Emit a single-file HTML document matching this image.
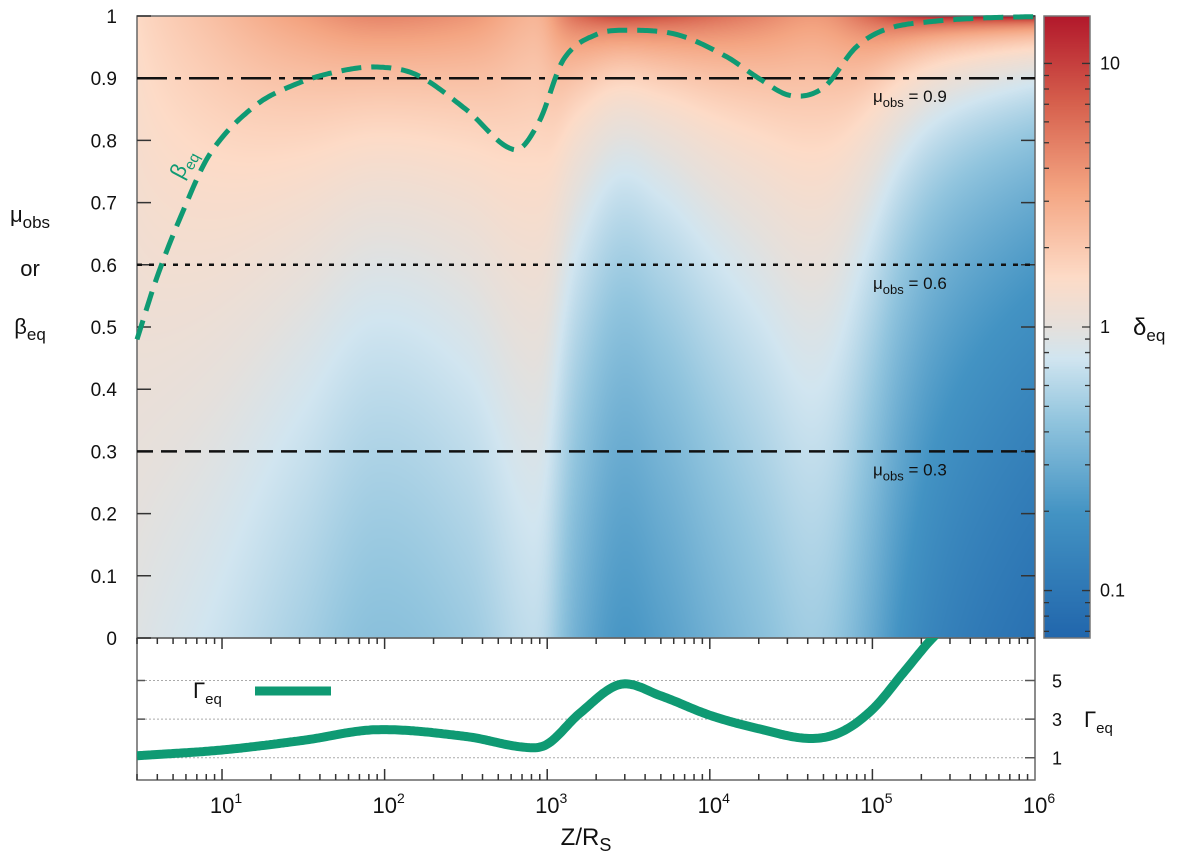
<!DOCTYPE html>
<html><head><meta charset="utf-8"><style>
html,body{margin:0;padding:0;background:#fff;}
#wrap{position:relative;width:1200px;height:858px;font-family:"Liberation Sans",sans-serif;}
canvas{position:absolute;}
svg{position:absolute;left:0;top:0;}
</style></head><body>
<div id="wrap">
<canvas id="heat" style="left:137px;top:16px;" width="898" height="622"></canvas>
<canvas id="cbar" style="left:1044px;top:16px;" width="46" height="622"></canvas>
<svg id="svg" width="1200" height="858"></svg>
</div>
<script>
// ---- data ----
const gammaLogZ = [0.477,1.0,1.5,1.95,2.5,2.85,3.0,3.2,3.45,3.7,4.0,4.3,4.6,4.8,5.0,5.2,5.37,5.6,6.0];
const gammaVals = [1.1,1.4,1.9,2.45,2.1,1.55,1.7,3.3,4.8,4.2,3.2,2.5,2.0,2.3,3.5,5.5,7.2,9.0,11.5];
const betaLogZ = [0.477,0.6,0.75,0.93,1.2,1.45,1.7,1.95,2.2,2.5,2.8,2.95,3.1,3.3,3.5,3.8,4.1,4.3,4.5,4.7,4.9,5.1,5.4,5.7,6.0];
const betaVals = [0.48,0.58,0.68,0.78,0.855,0.89,0.91,0.918,0.905,0.85,0.785,0.83,0.93,0.97,0.977,0.97,0.935,0.9,0.872,0.885,0.95,0.98,0.992,0.997,0.999];
const muLines = [0.9,0.6,0.3];
const muDash = ["30,8,6,8","5,7","16,8"];
const yTicks = [0,0.1,0.2,0.3,0.4,0.5,0.6,0.7,0.8,0.9,1];
const yTickLabels = ["0","0.1","0.2","0.3","0.4","0.5","0.6","0.7","0.8","0.9","1"];
const xDecades = [1,2,3,4,5,6];
const gTicks = [1,3,5];
const cbTicks = [0.1,1,10];
const cbTickLabels = ["0.1","1","10"];

// ---- axes ----
const X0=137,X1=1035,LX0=Math.log10(3),LX1=6;
const sx = lx => X0+(lx-LX0)/(LX1-LX0)*(X1-X0);
const Y0=638,Y1=16;
const sy = m => Y0-(m)*(Y0-Y1);
const GB=777,GPX=19.3;
const sg = g => GB-g*GPX;
const CBL=1.18;
const sc = d => Y0-(Math.log10(d)+CBL)/(2*CBL)*(Y0-Y1);

function interp(xs,ys,x){
  const n=xs.length;
  if(x<=xs[0])return ys[0];
  if(x>=xs[n-1])return ys[n-1];
  let i=1;while(x>xs[i])i++;
  const x0=xs[i-1],x1=xs[i],y0=ys[i-1],y1=ys[i],h=x1-x0;
  const tan=k=>{if(k===0)return (ys[1]-ys[0])/(xs[1]-xs[0]);if(k===n-1)return (ys[n-1]-ys[n-2])/(xs[n-1]-xs[n-2]);
    return (ys[k+1]-ys[k-1])/(xs[k+1]-xs[k-1]);};
  const m0=tan(i-1)*h,m1=tan(i)*h,t=(x-x0)/h,t2=t*t,t3=t2*t;
  return (2*t3-3*t2+1)*y0+(t3-2*t2+t)*m0+(-2*t3+3*t2)*y1+(t3-t2)*m1;
}
const stops=[[0,[33,102,172]],[0.2,[67,147,195]],[0.35,[146,197,222]],[0.45,[209,229,240]],[0.5,[229,224,220]],[0.58,[253,219,199]],[0.72,[244,165,130]],[0.86,[214,96,77]],[1,[178,24,43]]];
function cmap(t){t=Math.max(0,Math.min(1,t));
  for(let i=1;i<stops.length;i++){if(t<=stops[i][0]){const a=stops[i-1],b=stops[i];const u=(t-a[0])/(b[0]-a[0]);
    return a[1].map((v,k)=>Math.round(v+(b[1][k]-v)*u));}}return stops[stops.length-1][1];}

// heatmap
(function(){
  const c=document.getElementById('heat'),ctx=c.getContext('2d');
  const W=c.width,H=c.height,img=ctx.createImageData(W,H);
  for(let px=0;px<W;px++){
    const lx=LX0+(px+0.5)/W*(LX1-LX0);
    const G=Math.max(1.01,interp(gammaLogZ,gammaVals,lx));const B=Math.sqrt(1-1/(G*G));
    for(let py=0;py<H;py++){
      const mu=1-(py+0.5)/H;
      const d=1/(G*(1-B*mu));
      const col=cmap((Math.log10(d)+CBL)/(2*CBL));
      const o=(py*W+px)*4;img.data[o]=col[0];img.data[o+1]=col[1];img.data[o+2]=col[2];img.data[o+3]=255;
    }
  }
  ctx.putImageData(img,0,0);
  const cb=document.getElementById('cbar'),cx=cb.getContext('2d');
  for(let py=0;py<cb.height;py++){const col=cmap(1-(py+0.5)/cb.height);cx.fillStyle=`rgb(${col})`;cx.fillRect(0,py,cb.width,1);}
})();

const svg=document.getElementById('svg');const NS='http://www.w3.org/2000/svg';
function el(tag,attrs,parent,text){const e=document.createElementNS(NS,tag);for(const k in attrs)e.setAttribute(k,attrs[k]);if(text!==undefined)e.textContent=text;(parent||svg).appendChild(e);return e;}
function txt(x,y,html,size,anchor,name){const t=el('text',{x:x,y:y,'font-size':size,'text-anchor':anchor||'start',fill:'#111','font-family':'Liberation Sans, sans-serif'});t.innerHTML=html;
  
  
  return t;}

// frames
let f=el('rect',{x:X0,y:Y1,width:X1-X0,height:Y0-Y1,fill:'none',stroke:'#666','stroke-width':1.5});


f=el('rect',{x:X0,y:Y0,width:X1-X0,height:780-Y0,fill:'none',stroke:'#666','stroke-width':1.5});


f=el('rect',{x:1044,y:Y1,width:46,height:Y0-Y1,fill:'none',stroke:'#777','stroke-width':1.5});



// y ticks
yTicks.forEach((v,i)=>{const y=sy(v);
  let t=el('path',{d:`M${X0},${y}h14M${X1},${y}h-14`,stroke:'#333','stroke-width':1.5});
  
  
  txt(117,y+7,yTickLabels[i],19,'end','y-tick-label');});

// x ticks
const g=el('g',{});


for(let d=0;d<=5;d++){for(let m=1;m<=9;m++){const lx=d+Math.log10(m);if(lx<LX0-1e-6||lx>LX1+1e-6)continue;const x=sx(lx);const L=m===1?11:6;
  el('path',{d:`M${x},780v-${L}M${x},${Y0}v${L}`,stroke:'#333','stroke-width':1.5},g);}}
xDecades.forEach(d=>{txt(sx(d)+4,813,`10<tspan dy="-10" font-size="14">${d}</tspan>`,22,'middle','x-tick-label');});
txt(586,845,`Z/R<tspan dy="6" font-size="18">S</tspan>`,24,'middle','x-axis-title');

// mu lines
muLines.forEach((m,i)=>{const y=sy(m);
  let l=el('line',{x1:X0,x2:X1,y1:y,y2:y,stroke:'#111','stroke-width':2.5,'stroke-dasharray':muDash[i]});
  
  
  txt(873,y+24,`μ<tspan dy="5" font-size="13">obs</tspan><tspan dy="-5"> = ${m}</tspan>`,17,'start','mu-obs-label-'+m);});

// beta curve
let pts=[];for(let px=X0;px<=X1;px+=2){const lx=LX0+(px-X0)/(X1-X0)*(LX1-LX0);pts.push(px+','+sy(Math.min(1,interp(betaLogZ,betaVals,lx))).toFixed(1));}
let bp=el('polyline',{points:pts.join(' '),fill:'none',stroke:'#0f9a73','stroke-width':5,'stroke-dasharray':'20,10'});


const bl=txt(0,0,`β<tspan dy="5" font-size="15">eq</tspan>`,22,'start','beta-eq-label');
bl.setAttribute('fill','#0f9a73');bl.setAttribute('transform','translate(182,180) rotate(-62)');

// gamma panel
gTicks.forEach(v=>{const y=sg(v);
  let l=el('line',{x1:X0,x2:X1,y1:y,y2:y,stroke:'#aaa','stroke-width':1,'stroke-dasharray':'2,2'});
  
  
  let t=el('path',{d:`M${X1},${y}h-10M${X0},${y}h8`,stroke:'#555','stroke-width':1.5});
  
  
  txt(1052,y+7,String(v),18,'start','gamma-tick-label');});
txt(1084,727,`Γ<tspan dy="6" font-size="15">eq</tspan>`,22,'start','gamma-axis-title');
const cp=el('clipPath',{id:'gc'});
el('rect',{x:X0,y:Y0,width:X1-X0,height:142},cp);
pts=[];for(let px=X0;px<=X1;px+=2){const lx=LX0+(px-X0)/(X1-X0)*(LX1-LX0);pts.push(px+','+sg(interp(gammaLogZ,gammaVals,lx)).toFixed(1));}
let gp=el('polyline',{points:pts.join(' '),fill:'none',stroke:'#0f9a73','stroke-width':9,'clip-path':'url(#gc)'});


txt(193,698,`Γ<tspan dy="6" font-size="15">eq</tspan>`,22,'start','legend-gamma-label');
let lg=el('line',{x1:255,x2:331,y1:691,y2:691,stroke:'#0f9a73','stroke-width':9});



// left titles
txt(30,222,`μ<tspan dy="6" font-size="17">obs</tspan>`,22,'middle','y-axis-title-mu');
txt(30,276,'or',22,'middle','y-axis-title-or');
txt(30,334,`β<tspan dy="6" font-size="17">eq</tspan>`,22,'middle','y-axis-title-beta');

// colorbar ticks
for(let e=-2;e<=1;e++){for(let m=1;m<=9;m++){const d=m*Math.pow(10,e);const ld=Math.log10(d);if(ld<-CBL||ld>CBL)continue;const y=sc(d);const L=m===1?8:5;
  let t=el('path',{d:`M1044,${y}h${L}M1090,${y}h-${L}`,stroke:'#333','stroke-width':1.3});
  
  }}
cbTicks.forEach((v,i)=>txt(1100,sc(v)+6,cbTickLabels[i],18,'start','colorbar-tick-label'));
txt(1133,sc(1)+8,`δ<tspan dy="6" font-size="17">eq</tspan>`,24,'start','colorbar-title');
</script>
</body></html>
